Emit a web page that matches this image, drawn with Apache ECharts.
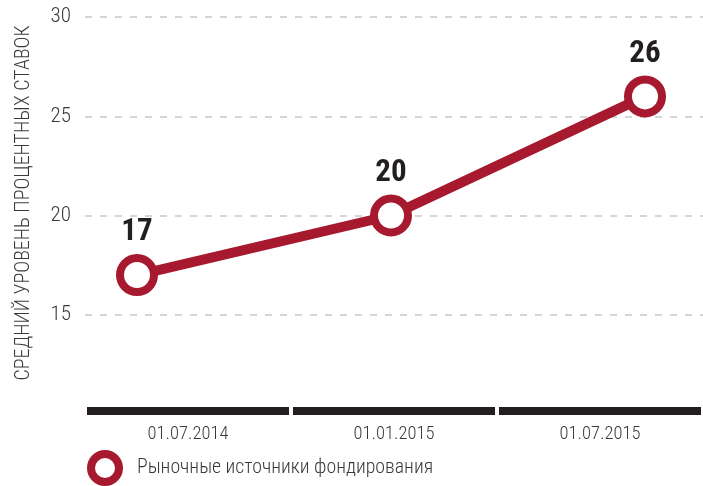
<!DOCTYPE html>
<html><head><meta charset="utf-8">
<script src="https://cdn.jsdelivr.net/npm/echarts@6/dist/echarts.min.js"></script>
<style>html,body{margin:0;padding:0;background:#fff}#c{width:703px;height:486px}</style>
</head><body><div id="c"></div>
<script>
const categories = ['01.07.2014', '01.01.2015', '01.07.2015'];
const seriesName = 'Рыночные источники фондирования';
const values = [17, 20, 26];
const yTitle = 'СРЕДНИЙ УРОВЕНЬ ПРОЦЕНТНЫХ СТАВОК';
const yMin = 10, yMax = 30, yStep = 5;

const FONT = '"Roboto Condensed","Liberation Sans Narrow","DejaVu Sans Condensed",sans-serif';
const RED = '#a6192e';
const DARK = '#231f20';
const TEXT = '#3a3a3a';

const chart = echarts.init(document.getElementById('c'));
chart.setOption({
  animation: false,
  textStyle: { fontFamily: FONT },
  grid: [
    { left: 85, right: -4, top: 17, bottom: 72 },
    { left: 137, right: 58, top: 17, bottom: 72 }
  ],
  xAxis: [
    { type: 'category', gridIndex: 0, data: categories, boundaryGap: true, position: 'bottom', offset: -3,
      axisLine: { show: true, lineStyle: { color: DARK, width: 8, cap: 'butt' } },
      axisTick: { show: true, inside: false, length: 6, lineStyle: { color: '#fff', width: 4 } },
      axisLabel: { color: TEXT, fontSize: 18.5, fontWeight: 300, fontFamily: FONT, margin: 14 },
      z: 1 },
    { type: 'category', gridIndex: 0, data: categories, boundaryGap: true, position: 'bottom', offset: -3,
      axisLine: { show: false },
      axisTick: { show: true, inside: true, length: 6, lineStyle: { color: '#fff', width: 4 } },
      axisLabel: { show: false }, z: 2 },
    { type: 'category', gridIndex: 1, data: categories, boundaryGap: false, show: false }
  ],
  yAxis: [
    { type: 'value', gridIndex: 0, min: yMin, max: yMax, interval: yStep,
      name: yTitle, nameLocation: 'middle', nameGap: 51, nameRotate: 90,
      nameTextStyle: { color: TEXT, fontSize: 20, fontWeight: 300, fontFamily: FONT, padding: [0, 0, 0, 25] },
      axisLine: { show: false }, axisTick: { show: false },
      axisLabel: { color: TEXT, fontSize: 21, fontWeight: 300, fontFamily: FONT, margin: 14, showMinLabel: false },
      splitLine: { show: true, showMinLine: false, lineStyle: { color: '#c8c8c8', width: 1.5, type: [7, 8] } } },
    { type: 'value', gridIndex: 1, min: yMin, max: yMax, interval: yStep, show: false, splitLine: { show: false } }
  ],
  legend: {
    left: 82, top: 445, icon: 'circle', itemWidth: 28, itemHeight: 28, itemGap: 10,
    itemStyle: { color: '#fff', borderColor: RED, borderWidth: 8 },
    textStyle: { color: TEXT, fontSize: 19.8, fontWeight: 300, fontFamily: FONT, padding: [0, 0, 0, 13] },
    data: [seriesName]
  },
  series: [{
    name: seriesName, type: 'line', xAxisIndex: 2, yAxisIndex: 1, data: values,
    symbol: 'circle', symbolSize: 34,
    lineStyle: { color: RED, width: 10 },
    itemStyle: { color: '#fff', borderColor: RED, borderWidth: 8 },
    label: { show: true, position: 'top', distance: 6, color: DARK, fontSize: 31, fontWeight: 'bold', fontFamily: FONT },
    z: 3
  }]
});
</script></body></html>
